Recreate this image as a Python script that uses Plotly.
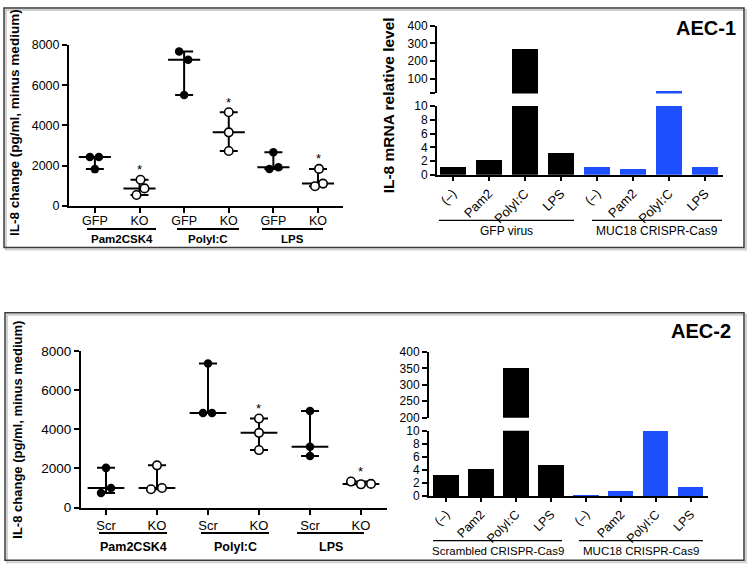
import plotly.graph_objects as go
import statistics

W, H = 750, 575
FONT = "Arial, 'Liberation Sans', sans-serif"


def px(x):
    return x / W


def py(y):
    return 1 - y / H


# ---------------- data ----------------
dot_groups = ["Pam2CSK4", "PolyI:C", "LPS"]
aec1_dot_ticks = ["GFP", "KO", "GFP", "KO", "GFP", "KO"]
aec2_dot_ticks = ["Scr", "KO", "Scr", "KO", "Scr", "KO"]

aec1_pam2_gfp = [2420, 2420, 1820]
aec1_pam2_ko = [1290, 860, 530]
aec1_polyic_gfp = [7680, 7270, 5510]
aec1_polyic_ko = [4650, 3650, 2720]
aec1_lps_gfp = [2660, 1830, 1910]
aec1_lps_ko = [1830, 1100, 970]

aec2_pam2_scr = [2030, 1000, 750]
aec2_pam2_ko = [2160, 940, 1000]
aec2_polyic_scr = [7360, 4840, 4840]
aec2_polyic_ko = [4550, 3820, 2940]
aec2_lps_scr = [4940, 3110, 2640]
aec2_lps_ko = [1330, 1190, 1210]

aec1_significant = [False, True, False, True, False, True]
aec2_significant = [False, False, False, True, False, True]

bar_categories = ["(–)", "Pam2", "PolyI:C", "LPS"]
aec1_gfp_virus = [1.1, 2.2, 270, 3.1]
aec1_muc18_crispr = [1.1, 0.9, 34, 1.1]
aec2_scrambled_crispr = [3.3, 4.2, 350, 4.8]
aec2_muc18_crispr = [0.25, 0.9, 10, 1.5]

# ---------------- style ----------------
BLUE = "#1f50ff"
aec1_jitter_px = [[-5, 4, 0], [1, 5, -3], [-5, 4, 0], [0, 0, 0], [0, -4, 5], [1, 5, -3]]
aec2_jitter_px = [[0, 5, -5], [0, -6, 5], [0, -5, 4], [0, 0, 0], [0, 0, 0], [-10, 0, 10]]

fig = go.Figure()
annotations = []
shapes = []


def axis_common(size):
    return dict(showline=True, linewidth=2, linecolor="black", ticks="outside",
                ticklen=5, tickwidth=2, tickcolor="black", showgrid=False,
                zeroline=False, tickfont=dict(family=FONT, size=size, color="black"))


def dot_panel(xa, ya, series, spacing, jitter, stars):
    for i, vals in enumerate(series):
        med = statistics.median(vals)
        lo, hi = min(vals), max(vals)
        fig.add_trace(go.Scatter(
            x=[i], y=[med], mode="markers",
            marker=dict(size=1, color="rgba(0,0,0,0)"),
            error_y=dict(type="data", symmetric=False, array=[hi - med],
                         arrayminus=[med - lo], color="black", thickness=2, width=9),
            error_x=dict(type="data", array=[0.36], color="black", thickness=2, width=0),
            xaxis=xa, yaxis=ya, hoverinfo="skip", showlegend=False, cliponaxis=False))
        filled = i % 2 == 0
        xs = [i + j / spacing for j in jitter[i]]
        fig.add_trace(go.Scatter(
            x=xs, y=vals, mode="markers",
            marker=dict(size=8.5, color="black" if filled else "white",
                        line=dict(color="black", width=0 if filled else 1.6)),
            xaxis=xa, yaxis=ya, showlegend=False, cliponaxis=False))
        if stars[i]:
            annotations.append(dict(x=i, y=hi, xref=xa, yref=ya, text="*",
                                    showarrow=False, yshift=10,
                                    font=dict(family=FONT, size=13, color="black")))


def bar_panel(xa, ya_low, ya_up, left, right):
    n = len(bar_categories)
    for ya in (ya_low, ya_up):
        fig.add_trace(go.Bar(x=list(range(n)), y=left, marker_color="black",
                             marker_line_width=0, width=0.72,
                             xaxis=xa, yaxis=ya, showlegend=False))
        fig.add_trace(go.Bar(x=list(range(n, 2 * n)), y=right, marker_color=BLUE,
                             marker_line_width=0, width=0.72,
                             xaxis=xa, yaxis=ya, showlegend=False))


# Top-left: AEC-1 dot plot
dot_panel("x", "y", [aec1_pam2_gfp, aec1_pam2_ko, aec1_polyic_gfp, aec1_polyic_ko,
                     aec1_lps_gfp, aec1_lps_ko], 44.6, aec1_jitter_px, aec1_significant)
# Bottom-left: AEC-2 dot plot
dot_panel("x3", "y4", [aec2_pam2_scr, aec2_pam2_ko, aec2_polyic_scr, aec2_polyic_ko,
                       aec2_lps_scr, aec2_lps_ko], 51, aec2_jitter_px, aec2_significant)
# Bars
bar_panel("x2", "y2", "y3", aec1_gfp_virus, aec1_muc18_crispr)
bar_panel("x4", "y5", "y6", aec2_scrambled_crispr, aec2_muc18_crispr)

layout = dict(width=W, height=H, margin=dict(l=0, r=0, t=0, b=0),
              paper_bgcolor="white", plot_bgcolor="white", showlegend=False,
              bargap=0, font=dict(family=FONT, color="black"))

# --- dot axes
layout["xaxis"] = dict(axis_common(12.5), domain=[px(69), px(343)], range=[-0.58, 5.56],
                       tickvals=list(range(6)), ticktext=aec1_dot_ticks, anchor="y",
                       ticklabelstandoff=-3)
layout["yaxis"] = dict(axis_common(12.5), domain=[py(204), py(39)], range=[0, 8000],
                       tickvals=[0, 2000, 4000, 6000, 8000], anchor="x")
layout["xaxis3"] = dict(axis_common(13), domain=[px(81), px(387)], range=[-0.49, 5.51],
                        tickvals=list(range(6)), ticktext=aec2_dot_ticks, anchor="y4")
layout["yaxis4"] = dict(axis_common(13.5), domain=[py(514), py(353.3)], range=[0, 8000],
                        tickvals=[0, 2000, 4000, 6000, 8000], anchor="x3")

# --- bar axes
bar_ticks = bar_categories * 2
layout["xaxis2"] = dict(axis_common(13), domain=[px(437), px(723)], range=[-0.44, 7.5],
                        tickvals=list(range(8)), ticktext=bar_ticks, tickangle=-45,
                        anchor="y2", ticklen=4)
layout["yaxis2"] = dict(axis_common(12), domain=[py(172.3), py(101.7)], range=[0, 10],
                        tickvals=[0, 2, 4, 6, 8, 10], anchor="x2")
layout["yaxis3"] = dict(axis_common(12), domain=[py(88.7), py(19)], range=[20, 400],
                        tickvals=[20, 100, 200, 300, 400],
                        ticktext=["", "100", "200", "300", "400"], anchor="x2")
layout["xaxis4"] = dict(axis_common(12.5), domain=[px(429), px(708)], range=[-0.486, 7.49],
                        tickvals=list(range(8)), ticktext=bar_ticks, tickangle=-45,
                        anchor="y5", ticklen=4)
layout["yaxis5"] = dict(axis_common(12), domain=[py(502.3), py(435)], range=[0, 10],
                        tickvals=[0, 2, 4, 6, 8, 10], anchor="x4")
layout["yaxis6"] = dict(axis_common(12), domain=[py(421.7), py(354.3)], range=[200, 400],
                        tickvals=[200, 250, 300, 350, 400], anchor="x4")


def hline(x0, x1, y, w=2):
    shapes.append(dict(type="line", xref="paper", yref="paper", x0=px(x0), x1=px(x1),
                       y0=py(y), y1=py(y), line=dict(color="black", width=w)))


def label(x, y, text, size, bold=False, angle=0, xanchor="center"):
    annotations.append(dict(x=px(x), y=py(y), xref="paper", yref="paper",
                            text=f"<b>{text}</b>" if bold else text, showarrow=False,
                            textangle=angle, xanchor=xanchor, yanchor="middle",
                            font=dict(family=FONT, size=size, color="black")))


# group underlines and labels: top-left
for (x0, x1), g in zip([(87, 156), (177, 239), (262, 323)], dot_groups):
    hline(x0, x1, 228)
    label((x0 + x1) / 2, 238.5, g, 11.5, bold=True)
# bottom-left
for (x0, x1), g in zip([(99, 167), (201, 269), (297, 364)], dot_groups):
    hline(x0, x1, 540)
    label((x0 + x1) / 2, 554, g, 12.5, bold=True)
# top-right
for (x0, x1), g in zip([(439, 574), (592, 722)], ["GFP virus", "MUC18 CRISPR-Cas9"]):
    hline(x0, x1, 219, 1.2)
    label((x0 + x1) / 2, 230, g, 12)
# bottom-right
for (x0, x1), g in zip([(433, 562), (579, 703)], ["Scrambled CRISPR-Cas9", "MUC18 CRISPR-Cas9"]):
    hline(x0, x1, 548, 1.2)
    label((x0 + x1) / 2, 558.5, g, 11.5)

# axis titles
label(15, 119, "IL-8 change (pg/ml, minus medium)", 13.5, bold=True, angle=-90)
label(18, 434, "IL-8 change (pg/ml, minus medium)", 13, bold=True, angle=-90)
label(388, 101, "IL-8 mRNA relative level", 15.5, bold=True, angle=-90)

# panel titles
label(738, 22, "AEC-1", 20, bold=True, xanchor="right")
label(733, 333, "AEC-2", 20, bold=True, xanchor="right")

# panel frames (with light shadow)
for (x0, y0, x1, y1) in [(4, 1, 744, 247), (5, 314, 744, 568)]:
    shapes.append(dict(type="rect", xref="paper", yref="paper", x0=px(x0 + 2), x1=px(x1 + 2),
                       y0=py(y1 + 2), y1=py(y0 + 2), line=dict(color="#d0d0d0", width=2),
                       layer="below"))
    shapes.append(dict(type="rect", xref="paper", yref="paper", x0=px(x0), x1=px(x1),
                       y0=py(y1), y1=py(y0), line=dict(color="#3a3a3a", width=1.5)))

layout["annotations"] = annotations
layout["shapes"] = shapes
fig.update_layout(**layout)
fig.write_html(
    "out.html",
    config={"displayModeBar": False},
    post_script="document.body.style.margin='0px';document.body.style.overflow='hidden';",
)
